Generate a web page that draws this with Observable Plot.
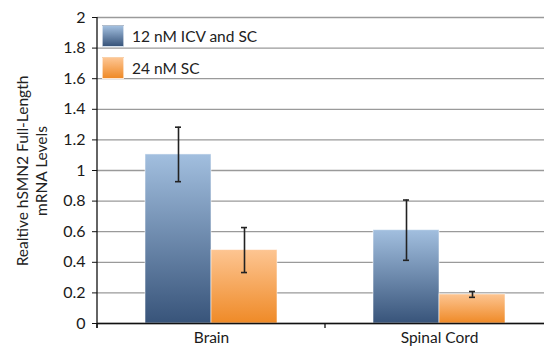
<!DOCTYPE html>
<html>
<head>
<meta charset="utf-8">
<script src="https://cdn.jsdelivr.net/npm/d3@7"></script>
<script src="https://cdn.jsdelivr.net/npm/@observablehq/plot@0.6"></script>
<style>
  html, body { margin: 0; padding: 0; background: #fff; overflow: hidden; }
  #chart { position: relative; width: 544px; height: 347px; overflow: hidden; font-family: Lato, "Open Sans", sans-serif; color: #222; }
  #chart svg { position: absolute; left: 0; top: 0; overflow: visible; max-width: none !important; }
  .legend { position: absolute; left: 102px; top: 20px; font-size: 15.5px; }
  .legend .row { display: flex; align-items: center; height: 32px; }
  .legend .sw { width: 22px; height: 22px; margin-right: 8px; box-sizing: border-box; border: 1px solid rgba(255,255,255,0.6); }
</style>
</head>
<body>
<div id="chart"></div>
<script>
// Tissues on the x axis, dosing groups as the bars within each tissue
const tissues = ["Brain", "Spinal Cord"];
const doses = ["12 nM ICV and SC", "24 nM SC"];

// Mean relative hSMN2 full-length mRNA level and error per dose, in tissue order
const meanIcvSc = [1.105, 0.61];
const errIcvSc  = [0.178, 0.197];
const meanSc    = [0.48, 0.19];
const errSc     = [0.147, 0.019];

const yTicks = [0, 0.2, 0.4, 0.6, 0.8, 1, 1.2, 1.4, 1.6, 1.8, 2];

// Gradient stops (top, bottom) for each dose
const doseTop    = ["#a2bfdf", "#fdc592"];
const doseBottom = ["#38547a", "#ef8a27"];
const gradIds    = ["grad-icv-sc", "grad-sc"];

const rows = [];
tissues.forEach((t, i) => {
  rows.push({tissue: t, dose: doses[0], mean: meanIcvSc[i], err: errIcvSc[i]});
  rows.push({tissue: t, dose: doses[1], mean: meanSc[i], err: errSc[i]});
});

const font = "Lato, 'Open Sans', sans-serif";

const plot = Plot.plot({
  width: 553,
  height: 347,
  marginLeft: 96,
  marginRight: 0,
  marginTop: 17,
  marginBottom: 24,
  style: {fontFamily: font, fontSize: "15px", color: "#222", background: "transparent", maxWidth: "none"},
  facet: {marginTop: 0, marginBottom: 0, marginLeft: 0, marginRight: 0},
  fx: {domain: tissues, padding: 0, label: null},
  x: {domain: doses, paddingInner: 0, paddingOuter: 0.72, axis: null},
  y: {domain: [0, 2], axis: null},
  marks: [
    Plot.gridY(yTicks, {stroke: "#9a9a9a", strokeOpacity: 1, strokeWidth: 1.3}),
    ...doses.map((d, k) =>
      Plot.barY(rows.filter(r => r.dose === d), {
        fx: "tissue", x: "dose", y: "mean",
        fill: `url(#${gradIds[k]})`,
        stroke: "#fff", strokeOpacity: 0.55, strokeWidth: 1
      })
    ),
    Plot.ruleX(rows, {fx: "tissue", x: "dose", y1: r => r.mean - r.err, y2: r => r.mean + r.err, stroke: "#222", strokeWidth: 1.6}),
    Plot.tickY(rows, {fx: "tissue", x: "dose", y: r => r.mean + r.err, stroke: "#222", strokeWidth: 1.6, insetLeft: 30, insetRight: 30}),
    Plot.tickY(rows, {fx: "tissue", x: "dose", y: r => r.mean - r.err, stroke: "#222", strokeWidth: 1.6, insetLeft: 30, insetRight: 30}),
    Plot.ruleY([0], {stroke: "#111", strokeWidth: 1.3}),
    Plot.axisY(yTicks, {tickSize: 5, tickPadding: 7, tickFormat: d => String(d), fontSize: 16, stroke: "#111", fill: "#1a1a1a", label: null}),
    Plot.axisFx({anchor: "bottom", tickSize: 0, tickPadding: 8, fontSize: 15.5, fill: "#1a1a1a", label: null})
  ]
});

const svg = d3.select(plot);

// Vertical gradients for the bar fills
const defs = svg.insert("defs", ":first-child");
gradIds.forEach((id, k) => {
  const g = defs.append("linearGradient").attr("id", id).attr("x1", 0).attr("y1", 0).attr("x2", 0).attr("y2", 1);
  g.append("stop").attr("offset", "0%").attr("stop-color", doseTop[k]);
  g.append("stop").attr("offset", "100%").attr("stop-color", doseBottom[k]);
});

// Left axis line plus category-boundary ticks on the baseline
const ys = plot.scale("y");
const fxs = plot.scale("fx");
const y0 = ys.apply(0), y2 = ys.apply(2);
const x0 = fxs.apply(tissues[0]);
svg.append("line").attr("x1", x0).attr("x2", x0).attr("y1", y2).attr("y2", y0 + 5)
  .attr("stroke", "#111").attr("stroke-width", 1.3);
tissues.forEach(t => {
  const x = fxs.apply(t);
  svg.append("line").attr("x1", x).attr("x2", x).attr("y1", y0).attr("y2", y0 + 5)
    .attr("stroke", "#111").attr("stroke-width", 1.3);
});

// Two-line rotated y-axis title
const title = svg.append("text")
  .attr("transform", `translate(28,${(y0 + y2) / 2 + 1}) rotate(-90)`)
  .attr("text-anchor", "middle")
  .attr("font-family", font)
  .attr("font-size", 15.5)
  .attr("fill", "#222");
title.append("tspan").attr("x", 0).attr("dy", 0).text("Realtive hSMN2 Full-Length");
title.append("tspan").attr("x", 0).attr("dy", 19).text("mRNA Levels");

const chart = document.getElementById("chart");
chart.appendChild(plot);

// Legend inside the plot area
const legend = d3.select(chart).append("div").attr("class", "legend");
doses.forEach((d, k) => {
  const row = legend.append("div").attr("class", "row");
  row.append("div").attr("class", "sw")
    .style("background", `linear-gradient(to bottom, ${doseTop[k]}, ${doseBottom[k]})`);
  row.append("span").text(d);
});
</script>
</body>
</html>
